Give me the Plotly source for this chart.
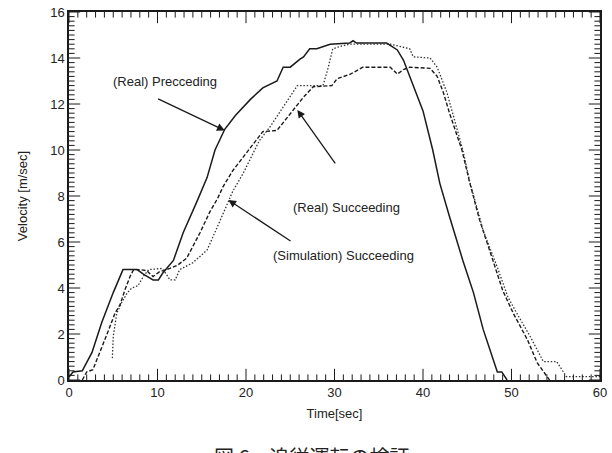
import plotly.graph_objects as go

# Real Preceding (solid)
pre_t = [0, 0.45, 1.5, 2.6, 3.7, 5.0, 6.1, 7.7, 8.4, 9.5, 10.1, 10.6, 11.8, 12.9, 14.5, 15.6, 16.5,
         17.6, 18.8, 20.5, 21.9, 23.5, 24.2, 25.0, 26.1, 26.5, 27.2, 28.0, 29.5, 31.7, 32.1, 32.5,
         35.9, 37.1, 37.8, 38.5, 40.0, 41.1, 41.9, 43.0, 44.5, 45.7, 46.8, 48.4, 48.9, 49.5]
pre_v = [0.13, 0.35, 0.4, 1.2, 2.5, 3.8, 4.8, 4.8, 4.6, 4.35, 4.35, 4.65, 5.2, 6.4, 7.8, 8.8, 10.0,
         10.9, 11.5, 12.2, 12.7, 13.0, 13.6, 13.6, 13.95, 14.05, 14.4, 14.4, 14.6, 14.65, 14.75, 14.65,
         14.65, 14.35, 13.9, 13.2, 11.7, 10.0, 8.55, 7.1, 5.2, 3.8, 2.2, 0.35, 0.35, 0.0]

# Real Succeeding (dashed)
suc_t = [1.5, 2.0, 2.7, 3.5, 4.3, 5.2, 5.8, 6.3, 6.9, 7.3, 8.0, 8.8, 9.5, 10.2, 11.4, 12.3, 13.3,
         14.8, 15.9, 16.8, 17.4, 18.5, 19.5, 20.5, 21.9, 23.5, 25.3, 26.5, 27.6, 29.7, 30.3, 31.8,
         33.2, 36.3, 37.1, 37.8, 38.5, 40.8, 41.6, 42.3, 43.0, 43.8, 44.4, 45.3, 46.4, 47.9, 49.0,
         50.2, 51.8, 52.9, 54.0, 54.3]
suc_v = [0.0, 0.35, 0.45, 1.2, 2.0, 2.9, 3.3, 3.9, 4.5, 4.8, 4.8, 4.75, 4.5, 4.7, 4.85, 5.0, 5.3,
         6.4, 7.3, 7.9, 8.4, 9.1, 9.6, 10.1, 10.8, 10.85, 11.7, 12.3, 12.75, 12.8, 13.1, 13.3,
         13.6, 13.6, 13.3, 13.5, 13.6, 13.55, 13.2, 12.5, 11.6, 10.7, 10.0, 8.55, 6.95, 5.2, 3.9,
         2.9, 1.75, 0.75, 0.15, 0.0]

# Simulation Succeeding (dotted)
sim_t = [4.9, 5.0, 5.4, 6.0, 6.6, 7.1, 7.8, 8.4, 9.0, 10.5, 11.0, 11.4, 12.0, 12.5, 14.0, 15.6,
         16.7, 17.8, 18.5, 19.7, 20.7, 21.5, 22.7, 24.2, 25.8, 28.7, 29.3, 29.8, 30.6, 31.7, 36.3,
         38.5, 38.9, 40.8, 41.6, 42.7, 43.8, 44.5, 45.3, 46.8, 48.4, 49.6, 50.6, 52.1, 53.6, 55.1,
         56.2, 60.0]
sim_v = [0.95, 1.9, 2.9, 3.4, 3.8, 4.0, 4.1, 4.5, 4.8, 4.85, 4.6, 4.35, 4.35, 4.8, 5.1, 5.65,
         6.6, 7.6, 8.2, 9.0, 9.8, 10.4, 11.0, 11.9, 12.8, 12.8, 13.6, 14.4, 14.5, 14.6, 14.6,
         14.4, 14.05, 14.0, 13.6, 12.5, 11.0, 10.0, 8.6, 6.5, 4.9, 3.6, 2.9, 1.9, 0.8, 0.8,
         0.15, 0.15]

x_range = [0, 60]
y_range = [0, 16]
x_ticks = [0, 10, 20, 30, 40, 50, 60]
y_ticks = [0, 2, 4, 6, 8, 10, 12, 14, 16]
x_minor = [t for t in range(0, 61) if t % 10]
y_minor = [round(i * 0.2, 1) for i in range(0, 81) if i % 10]

labels = ["(Real) Precceding", "(Real) Succeeding", "(Simulation) Succeeding"]
label_pos = [(10.8, 12.96), (31.3, 7.48), (31.0, 5.43)]
arrow_tip = [(17.6, 10.85), (25.8, 11.74), (18.0, 7.83)]
arrow_tail = [(9.9, 12.25), (30.2, 9.35), (25.2, 6.0)]

caption = "図 6　追従運転の検証"

ink = "#1a1a1a"
fig = go.Figure()
fig.add_trace(go.Scatter(x=pre_t, y=pre_v, mode="lines", line=dict(color=ink, width=1.5)))
fig.add_trace(go.Scatter(x=suc_t, y=suc_v, mode="lines", line=dict(color=ink, width=1.4, dash="4px,2px")))
fig.add_trace(go.Scatter(x=sim_t, y=sim_v, mode="lines", line=dict(color="#333", width=1.3, dash="1.5px,1.8px")))


def tick_marks(xs, ys, symbol, size):
    fig.add_trace(go.Scatter(
        x=xs, y=ys, mode="markers", hoverinfo="skip", cliponaxis=True,
        marker=dict(symbol=symbol, size=size, color=ink, line=dict(color=ink, width=1))))


# tick marks on all four sides (bottom/top for x, left/right for y), half clipped by the plot area
for edge in y_range:
    tick_marks(x_ticks, [edge] * len(x_ticks), "line-ns", 16)
    tick_marks(x_minor, [edge] * len(x_minor), "line-ns", 8)
for edge in x_range:
    tick_marks([edge] * len(y_ticks), y_ticks, "line-ew", 16)
    tick_marks([edge] * len(y_minor), y_minor, "line-ew", 8)

font = dict(family="Liberation Sans, Arial, sans-serif", size=13, color="#222")

anns = []
for lab, (lx, ly) in zip(labels, label_pos):
    anns.append(dict(x=lx, y=ly, xref="x", yref="y", text=lab, showarrow=False, font=font))
for (tx, ty), (ax, ay) in zip(arrow_tip, arrow_tail):
    anns.append(dict(x=tx, y=ty, ax=ax, ay=ay, xref="x", yref="y", axref="x", ayref="y",
                     text="", showarrow=True, arrowhead=2, arrowsize=1.2, arrowwidth=1.3,
                     arrowcolor=ink))
anns.append(dict(x=0.458, y=-0.163, xref="paper", yref="paper", yanchor="top", text=caption,
                 showarrow=False, font=dict(family="Noto Sans CJK JP", size=20, color="#222")))

axis_common = dict(showgrid=False, zeroline=False, showline=True, linecolor=ink, linewidth=1.5,
                   mirror=True, ticks="", tickfont=font, automargin=False)
fig.update_layout(
    width=612, height=453,
    margin=dict(l=69, r=12, t=12, b=73),
    plot_bgcolor="white", paper_bgcolor="white",
    showlegend=False,
    annotations=anns,
    xaxis=dict(range=x_range, tickvals=x_ticks,
               title=dict(text="Time[sec]", font=font, standoff=10), **axis_common),
    yaxis=dict(range=y_range, tickvals=y_ticks, ticksuffix="  ",
               title=dict(text="Velocity [m/sec]", font=font, standoff=20), **axis_common),
)
fig.write_html("out.html")
